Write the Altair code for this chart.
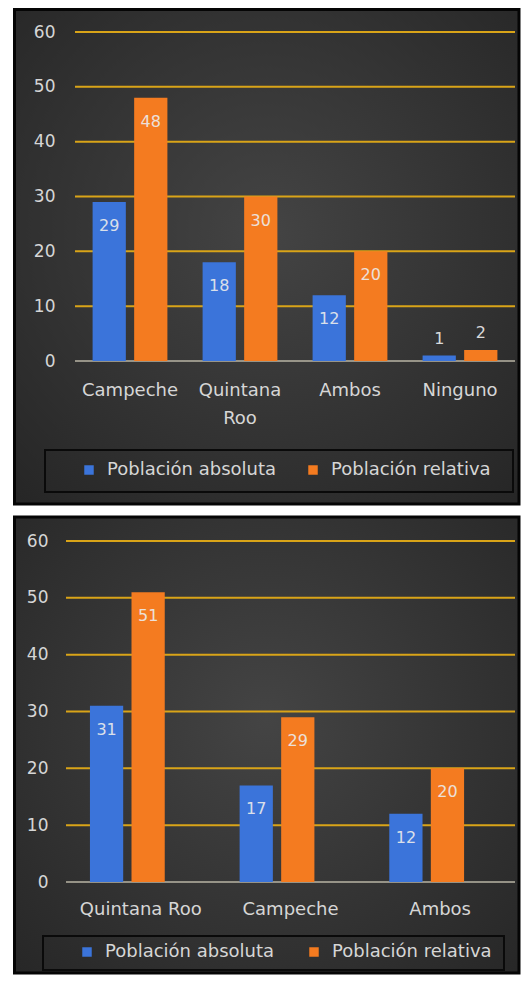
import altair as alt
import pandas as pd

series = ["Población absoluta", "Población relativa"]
series_colors = ["#3B74DA", "#F47B20"]

top_categories = ["Campeche", "Quintana Roo", "Ambos", "Ninguno"]
top_absoluta = [29, 18, 12, 1]
top_relativa = [48, 30, 20, 2]

bottom_categories = ["Quintana Roo", "Campeche", "Ambos"]
bottom_absoluta = [31, 17, 12]
bottom_relativa = [51, 29, 20]

y_ticks = [0, 10, 20, 30, 40, 50, 60]

FONT = "DejaVu Sans"
TEXT = "#d6d6d6"
GRID = "#d9a418"
ZERO = "#b9b4a4"

bg_fill = alt.Gradient(
    gradient="radial",
    stops=[alt.GradientStop(color="#444444", offset=0),
           alt.GradientStop(color="#252525", offset=1)],
    x1=0.5, y1=0.45, r1=0, x2=0.5, y2=0.45, r2=0.75,
)


def panel(cats, abs_vals, rel_vals, W, H, xrange, box, lbox, lxy, colpad, xpad, ypad,
          label_expr=None):
    df = pd.DataFrame({
        "categoria": cats + cats,
        "serie": [series[0]] * len(cats) + [series[1]] * len(cats),
        "valor": abs_vals + rel_vals,
    })
    ticks_df = pd.DataFrame({"tick": y_ticks})
    one = pd.DataFrame({"k": [0]})
    y_scale = alt.Scale(domain=[0, 60], nice=False, zero=True)
    y_axis = alt.Axis(title=None, values=y_ticks, grid=False, domain=False, ticks=False,
                      tickSize=0, labelFont=FONT, labelFontSize=17, labelColor=TEXT,
                      labelPadding=ypad, zindex=1)
    xk = dict(title=None, domain=False, ticks=False, tickSize=0, labelFont=FONT,
              labelFontSize=18, labelColor=TEXT, labelPadding=xpad, labelAngle=0,
              labelLineHeight=28, zindex=1)
    if label_expr:
        xk["labelExpr"] = label_expr
    x_enc = alt.X("categoria:N", sort=cats,
                  scale=alt.Scale(paddingInner=0.32, paddingOuter=0.16, range=xrange),
                  axis=alt.Axis(**xk))
    xo_enc = alt.XOffset("serie:N", sort=series,
                         scale=alt.Scale(paddingInner=0.2, paddingOuter=0))

    bg = alt.Chart(one).mark_rect(fill=bg_fill, stroke="#050505", strokeWidth=3).encode(
        x=alt.value(box[0]), x2=alt.value(box[1]), y=alt.value(box[2]), y2=alt.value(box[3]))
    legbox = alt.Chart(one).mark_rect(fill="black", fillOpacity=0, stroke="#0a0a0a",
                                      strokeWidth=2).encode(
        x=alt.value(lbox[0]), x2=alt.value(lbox[1]), y=alt.value(lbox[2]), y2=alt.value(lbox[3]))
    grid = alt.Chart(ticks_df).transform_filter("datum.tick > 0").mark_rule(
        color=GRID, strokeWidth=2).encode(
        x=alt.value(xrange[0]), x2=alt.value(xrange[1]),
        y=alt.Y("tick:Q", scale=y_scale, axis=y_axis))
    zero = alt.Chart(ticks_df).transform_filter("datum.tick == 0").mark_rule(
        color=ZERO, strokeWidth=1.5).encode(
        x=alt.value(xrange[0]), x2=alt.value(xrange[1]),
        y=alt.Y("tick:Q", scale=y_scale, axis=y_axis))
    bars = alt.Chart(df).mark_bar().encode(
        x=x_enc, xOffset=xo_enc,
        y=alt.Y("valor:Q", scale=y_scale, axis=y_axis),
        color=alt.Color("serie:N", sort=series,
                        scale=alt.Scale(domain=series, range=series_colors),
                        legend=alt.Legend(title=None, orient="none", legendX=lxy[0],
                                          legendY=lxy[1], direction="horizontal",
                                          symbolType="square", symbolSize=90,
                                          symbolStrokeWidth=0, labelFont=FONT,
                                          labelFontSize=18, labelColor=TEXT,
                                          labelLimit=400, labelOffset=9,
                                          columnPadding=colpad, padding=0, zindex=1)),
    )
    lab_in = alt.Chart(df).transform_filter("datum.valor >= 5").mark_text(
        baseline="middle", dy=24, font=FONT, fontSize=16, color="#ececec", opacity=0.9).encode(
        x=x_enc, xOffset=xo_enc, y=alt.Y("valor:Q", scale=y_scale, axis=y_axis), text="valor:Q")
    lab_out = alt.Chart(df).transform_filter("datum.valor < 5").mark_text(
        baseline="middle", dy=-17, font=FONT, fontSize=16, color="#ececec", opacity=0.9).encode(
        x=x_enc, xOffset=xo_enc, y=alt.Y("valor:Q", scale=y_scale, axis=y_axis), text="valor:Q")
    return alt.layer(bg, legbox, grid, zero, bars, lab_in, lab_out).properties(width=W, height=H)


top = panel(top_categories, top_absoluta, top_relativa, 449, 329, [9, 449],
            [-51.5, 453, -22.5, 472], [-21, 447, 418, 460], [14, 429], 27, 20, 11,
            label_expr="datum.value == 'Quintana Roo' ? ['Quintana', 'Roo'] : datum.value")
bottom = panel(bottom_categories, bottom_absoluta, bottom_relativa, 449, 341, [0, 449],
               [-51.5, 453, -24, 432], [-23, 438, 395, 429], [12, 402], 30, 18, 18)

chart = alt.concat(top, bottom, columns=1, spacing=9, bounds="full").resolve_scale(
    color="independent").resolve_legend(color="independent").configure(
    background="white", padding={"left": 5, "top": 0, "right": 0, "bottom": 0}
).configure_view(stroke=None)

chart.save("out.html", embed_options={"renderer": "svg", "actions": False})
